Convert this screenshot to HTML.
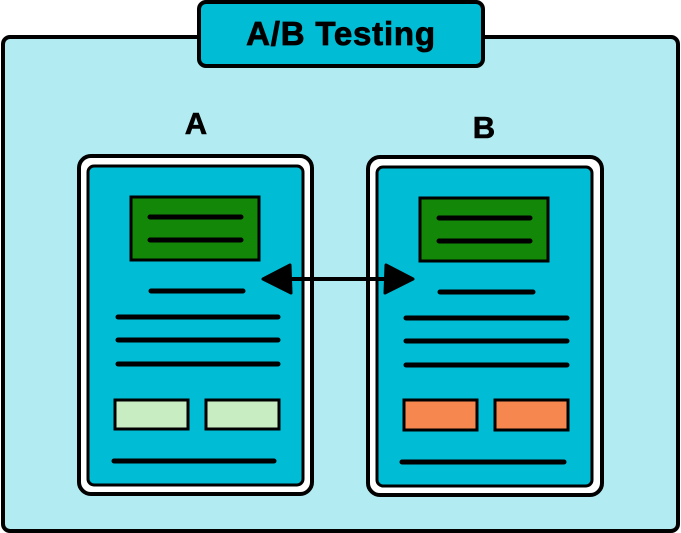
<!DOCTYPE html>
<html><head><meta charset="utf-8"><style>html,body{margin:0;padding:0;background:#fff;width:681px;height:533px;overflow:hidden}</style></head>
<body>
<svg width="681" height="533" viewBox="0 0 681 533" xmlns="http://www.w3.org/2000/svg">
<rect x="3" y="37" width="675" height="494" rx="7" fill="#b3ebf2" stroke="#000" stroke-width="4"/>
<rect x="199" y="2" width="284" height="64" rx="7" fill="#00bcd4" stroke="#000" stroke-width="4"/>
<text x="341" y="45" text-anchor="middle" font-family="Liberation Sans, sans-serif" font-weight="bold" font-size="33" letter-spacing="0.8" stroke="#000" stroke-width="0.8" fill="#000">A/B Testing</text>
<text x="196" y="134" text-anchor="middle" font-family="Liberation Sans, sans-serif" font-weight="bold" font-size="31" stroke="#000" stroke-width="0.6">A</text>
<text x="484" y="138" text-anchor="middle" font-family="Liberation Sans, sans-serif" font-weight="bold" font-size="31" stroke="#000" stroke-width="0.6">B</text>
<g stroke="#000" stroke-linecap="round">
<rect x="79" y="156" width="233" height="338" rx="12" fill="#fff" stroke-width="4"/>
<rect x="88" y="166" width="215" height="319" rx="6" fill="#00bcd4" stroke-width="3"/>
<rect x="131" y="197" width="128" height="63" fill="#138808" stroke-width="3"/>
<line x1="150" y1="217" x2="241" y2="217" stroke-width="5"/>
<line x1="150" y1="240" x2="241" y2="240" stroke-width="5"/>
<line x1="151" y1="291" x2="243" y2="291" stroke-width="5"/>
<line x1="118" y1="317" x2="278" y2="317" stroke-width="5"/>
<line x1="118" y1="340" x2="278" y2="340" stroke-width="5"/>
<line x1="118" y1="364" x2="278" y2="364" stroke-width="5"/>
<rect x="115" y="400" width="73" height="29" fill="#c8edc3" stroke-width="3"/>
<rect x="206" y="400" width="73" height="29" fill="#c8edc3" stroke-width="3"/>
<line x1="114" y1="461" x2="274" y2="461" stroke-width="5"/>

<rect x="368" y="157" width="234" height="338" rx="12" fill="#fff" stroke-width="4"/>
<rect x="377" y="167" width="215" height="319" rx="6" fill="#00bcd4" stroke-width="3"/>
<rect x="420" y="198" width="128" height="63" fill="#138808" stroke-width="3"/>
<line x1="439" y1="218" x2="530" y2="218" stroke-width="5"/>
<line x1="439" y1="241" x2="530" y2="241" stroke-width="5"/>
<line x1="440" y1="292" x2="533" y2="292" stroke-width="5"/>
<line x1="406" y1="318" x2="567" y2="318" stroke-width="5"/>
<line x1="406" y1="341" x2="567" y2="341" stroke-width="5"/>
<line x1="406" y1="365" x2="567" y2="365" stroke-width="5"/>
<rect x="404" y="400" width="73" height="30" fill="#f5874f" stroke-width="3"/>
<rect x="495" y="400" width="73" height="30" fill="#f5874f" stroke-width="3"/>
<line x1="402" y1="462" x2="564" y2="462" stroke-width="5"/>

<line x1="285" y1="279" x2="392" y2="279" stroke-width="4"/>
</g>
<path d="M263 279 L290 265 L291 293 Z" fill="#000" stroke="#000" stroke-width="3" stroke-linejoin="round"/>
<path d="M413 279 L386 265 L385 293 Z" fill="#000" stroke="#000" stroke-width="3" stroke-linejoin="round"/>
</svg>
</body></html>
